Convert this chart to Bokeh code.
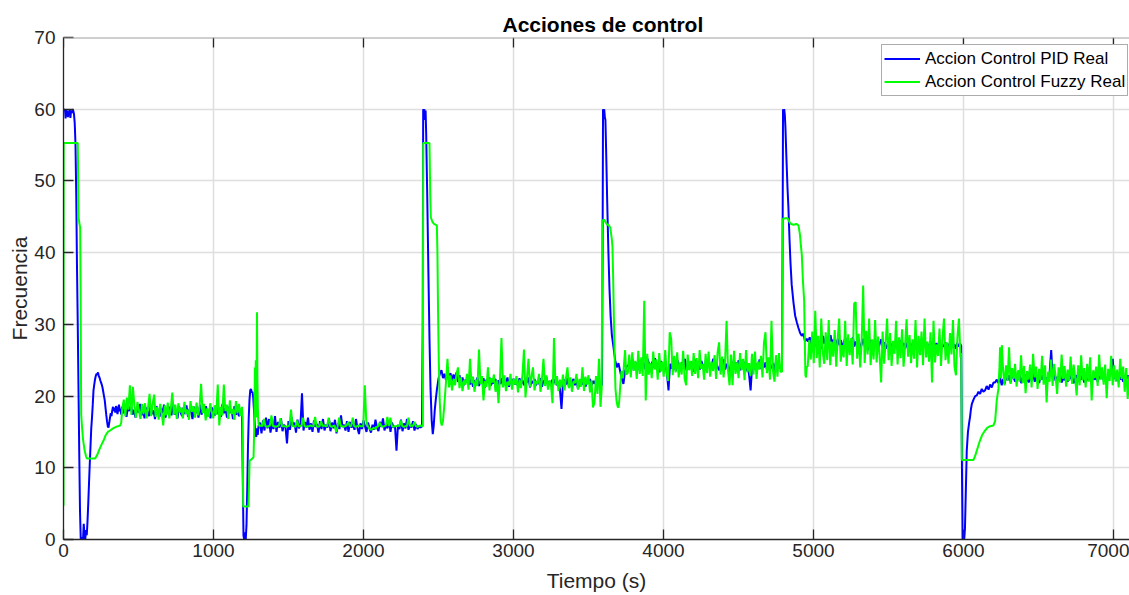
import numpy as np
from bokeh.plotting import figure
from bokeh.models import Range1d, FixedTicker, Legend, LegendItem, Span, Title
from bokeh.embed import file_html
from bokeh.resources import INLINE

# ---------------- data ----------------
x_ticks = [0, 1000, 2000, 3000, 4000, 5000, 6000, 7000]
y_ticks = [0, 10, 20, 30, 40, 50, 60, 70]
series_names = ["Accion Control PID Real", "Accion Control Fuzzy Real"]

# PID: transitions (explicit time / value) and noisy plateaus (values sampled evenly between start/end)
pid_t_a = [0,5,10,14,18,22,26,30,34,38,42,46,50,55,60,65,70,75,80,85,90,95,100,105,110,115,120,125,130,135,
           140,145,150,155,160,165,170,175,180,185,190,195,200,205,210,215,220,225,230,235,240,245,250,255,260,
           265,270,275,280,285,290,295,300,305,310,315,320,325,330,335,340,345,350,355,360,365,370,375,380,385,390]
pid_v_a = [60,59.8,60,58.7,60,59,59.8,58.9,59.6,59.2,60,58.8,59.7,59.5,60,59.8,59.3,58,55,48,38,30,21,12,4,0,0,0.3,0,2.2,
           0.5,0,1.3,0.6,2.5,5,7.8,10.5,13,15.5,17,18.8,20.8,21.6,22.3,22.8,23.1,23.0,23.3,22.8,22.6,22.2,21.9,21.6,21.2,
           20.6,20.0,19.4,18.4,17.4,16.5,15.8,15.6,16.3,17.0,17.6,17.2,18.0,18.5,17.9,18.4,17.7,18.6,18.2,17.5,18.3,18.8,17.9,18.2,17.4,18.5]
pid_n1 = [17.6,18.3,17.1,18.6,17.9,18.8,17.4,18.1,17.0,18.5,17.7,18.9,17.3,18.2,16.9,18.4,17.8,17.2,18.7,17.5,
          18.0,16.8,18.6,17.9,17.1,18.3,17.6,18.8,17.0,18.1,17.7,18.5,17.3,18.9,17.4,18.0,16.9,18.6,17.8,17.2,
          18.4,17.5,18.7,17.1,18.2,17.9,16.8,18.5,17.6,18.3,17.0,18.8,17.4,18.1,17.7,18.6,17.2,18.0,16.9,18.4,
          17.8,17.3,18.7,17.5,18.2,17.1,18.9,17.6,18.3,17.0,18.5,17.7,18.1,16.8,18.6,17.4,18.0,17.2,17.9]
pid_t_b = [1190,1195,1200,1205,1210,1215,1220,1225,1230,1235,1240,1245,1250,1255,1260,1265,1270,1275,1280,1285,1290,1295,1300]
pid_v_b = [17.5,9,0.5,0,1,0,2,7,13,17,19.5,20.8,21.0,20.5,20.6,19.8,18,16,15,14.3,15.5,14.6,15.8]
pid_n3 = [16.3,14.8,16.6,15.2,17.0,15.5,16.8,14.9,16.2,15.4,17.2,15.0,16.4,15.6,16.9,15.1,16.0,15.7,13.4,16.5,
          15.3,17.1,15.8,16.3,14.9,16.7,15.5,16.1,20.4,15.2,16.4,15.6,17.0,15.3,16.2,15.0,16.6,15.7,16.1,14.9,
          16.5,15.4,16.8,15.2,16.0,15.6,16.9,15.1,16.3,15.5,16.7,14.8,16.2,15.4,17.3,15.7,16.0,15.2,16.5,15.0,
          16.4,15.6,16.1,15.3,16.8,15.5,14.7,16.2,15.4,16.6,15.8,15.0,16.3,15.5,14.9,16.0,15.3,16.7,15.6,15.1,
          16.4,15.7,16.9,15.2,16.1,15.5,16.6,15.0,16.3,15.6,15.8,12.4,16.0,15.4,16.7,15.1,16.2,15.5,16.8,15.3,
          16.0,15.6,16.5,15.2,16.1,15.4,15.8,15.6]
pid_t_c = [2390,2395,2398,2402,2406,2410,2414,2418,2425,2433,2440,2447,2455,2462,2468,2475,2482,2490,2500,2510,2520,2530,2540,2550,2560]
pid_v_c = [15.8,30,60,59.5,60,58.5,59.8,56.6,48,37,28,21,16.5,14.7,15.8,18,19.5,21,22.4,23.2,23.6,22.5,23.1,22.2,22.8]
pid_n5 = [22.8,23.2,22.1,23.0,22.4,23.3,22.0,22.9,21.8,22.6,21.5,22.3,21.9,22.7,21.6,22.4,21.3,22.2,21.8,22.6,
          21.4,22.1,21.7,22.5,21.2,22.3,21.9,22.6,21.5,22.0,21.8,22.4,21.1,22.2,21.7,22.5,21.4,22.1,21.9,22.6,
          21.3,22.2,21.8,22.4,21.6,22.0,21.4,22.5,21.7,22.2,21.5,22.3,21.9,22.6,21.2,22.1,21.8,22.4,21.5,22.0,
          21.7,22.5,21.3,22.2,21.9,22.6,21.4,22.1,21.6,22.3,21.8,22.4,21.5,22.0,20.9,18.2,21.7,22.3,21.6,22.5,
          21.2,22.1,21.8,22.4,21.5,22.2,21.0,21.9,22.3,21.6,22.5,21.3,22.0,21.8,22.4,21.5,22.1,21.7,22.3,21.4,
          22.0,21.6]
pid_t_d = [3590,3594,3597,3601,3605,3609,3613,3618,3625,3633,3640,3648,3656,3667,3678,3689,3700,3711,3722,3733,3744,3755]
pid_v_d = [21.5,40,60,59.6,60,58.9,58.5,54,47,40,35,31,28.5,26.8,25,24,24.6,23.5,22.4,21.7,23.5,24.2]
pid_n7 = [24.2,24.8,23.6,25.1,24.0,24.7,23.4,25.0,24.3,23.8,24.9,24.1,23.5,25.2,24.4,23.7,24.8,24.0,25.3,23.9,
          24.6,23.3,24.9,24.2,23.6,24.7,23.0,20.8,24.5,23.8,24.9,24.1,23.5,25.0,24.3,23.8,24.7,24.0,25.2,23.6,
          24.5,23.9,24.8,24.2,23.4,25.1,24.0,24.6,23.7,24.9,24.3,23.5,25.0,24.1,24.7,23.8,24.4,25.2,23.9,24.6,
          24.0,23.6,24.8,24.2,25.1,23.7,24.5,24.0,23.3,24.9,24.3,23.8,24.7,24.1,25.0,23.6,24.4,24.0,24.8,23.5,
          24.6,22.9,20.8,24.2,24.9,23.7,24.5,24.1,25.1,23.8,24.4,24.0,24.7,23.6,24.8,24.2,23.9,24.6,23.4,24.9,
          24.1,24.5,23.8]
pid_t_e = [4790,4794,4797,4801,4805,4809,4813,4820,4827,4833,4840,4847,4855,4867,4878,4889,4900,4911,4922,4933,4944,4955]
pid_v_e = [24,40,60,59.7,60,59.2,57.5,53,49,46.3,42,38.5,35.5,33,31.2,30.3,29.5,28.8,28.4,28.7,27.6,28.0]
pid_n9 = [27.6,28.2,27.1,27.9,26.8,27.5,28.3,27.0,27.7,26.6,28.4,27.3,27.8,26.9,27.5,28.5,27.2,27.9,26.7,27.4,
          28.0,27.1,27.8,26.5,27.6,28.1,27.0,27.7,26.8,27.4,28.2,26.9,27.6,27.1,27.9,26.6,27.3,28.0,26.9,27.5,
          26.4,27.2,27.8,26.7,27.4,26.9,27.6,26.5,27.3,27.9,26.8,27.5,26.6,27.1,27.7,26.9,27.3,26.4,27.6,26.8,
          27.2,26.5,27.8,26.9,27.4,26.6,27.1,27.7,26.8,27.3,26.5,27.6,26.9,27.2,26.7,27.5,26.4,27.1,27.8,26.8,
          27.3,26.6,27.6,26.9,27.2,26.5,27.4,26.8,27.7,26.6,27.1,26.9,27.5,26.7,27.3,26.5,27.6,26.8,27.2,26.6,
          27.4,26.9,27.3]
pid_t_f = [5985,5990,5994,6000,6005,6010,6015,6022,6030,6038,6044,6050,6056,6067,6078,6089,6100,6111,6122,6133,
           6144,6155,6167,6178,6189,6200,6211,6222,6233,6244,6255]
pid_v_f = [27,10,0,0.5,0,1.5,6,12.4,15,16.3,17.1,18.2,18.9,19.5,20.0,20.1,20.6,20.3,21.0,20.6,
           20.8,21.4,20.9,21.6,21.2,21.9,21.9,22.3,21.8,22.6,21.5]
pid_n11 = [22.4,21.7,23.0,22.2,22.9,21.9,23.1,22.5,22.0,22.8,22.3,23.2,21.8,22.6,22.1,23.0,22.4,21.9,22.7,22.2,
           23.3,22.0,22.8,22.4,21.8,22.9,22.3,23.1,22.0,22.6,22.2,23.4,26.4,22.5,22.9,22.1,22.7,22.3,23.0,21.9,
           22.6,22.2,22.8,22.0,23.1,22.4,22.7,21.8,22.5,22.9,22.1,22.6,22.3,23.0,21.9,22.7,22.2,22.8,22.4,21.8,
           22.9,22.3,22.6,22.0,22.8,22.5,23.1,22.2,22.7,22.0,22.6,23.0,23.6,25.2,22.4,22.8,22.1,22.9,22.3,22.7,
           22.0,22.6,22.4,22.9,22.2]

# Fuzzy
fz_t_a = [0,1,95,98,100,105,111,114,116,118,122,130,140,150,156,170,190,211,225,240,255,267,280,295,311,330,350,378,385]
fz_v_a = [4.7,55.3,55.3,50,45,44.2,43.5,35,25,17.5,16.1,14,12.5,11.6,11.3,11.3,11.3,11.3,11.8,12.6,
          13.3,13.8,14.5,15.0,15.2,15.5,15.7,15.9,16.3]
fz_n1 = [18.3,19.5,17.2,19.8,18.1,21.5,17.4,21.3,18.6,17.0,19.2,18.0,16.8,18.9,17.5,19.0,16.9,18.4,20.3,17.2,
         18.8,20.2,17.1,18.5,16.7,18.9,17.6,15.9,18.7,17.3,19.1,16.9,18.2,20.5,17.4,18.8,16.8,19.0,17.7,18.4,
         16.9,19.2,17.5,18.1,16.7,19.3,17.8,18.6,17.0,19.1,17.3,18.4,21.7,17.6,18.9,16.6,18.3,17.1,19.0,17.8,
         16.9,18.7,17.4,21.6,15.9,18.5,17.3,21.6,17.9,18.8,16.8,19.4,17.5,18.2,16.7,19.3,17.6,18.9,17.2]
fz_t_b = [1190,1194,1198,1215,1233,1237,1241,1255,1267,1272,1276,1279,1282,1286,1290,1293,1296,1300]
fz_v_b = [18.5,17,4.6,4.6,4.6,8,11.0,11.2,11.5,16,24,18,25,17,31.7,22,18,16.2]
fz_n3 = [15.8,15.9,15.8,16.8,15.8,15.7,15.8,15.9,17.3,15.8,15.8,15.7,15.8,15.9,16.9,15.8,15.8,15.8,15.7,15.8,
         15.9,18.1,15.8,15.8,15.7,16.6,15.8,15.8,15.9,17.0,15.8,15.7,15.8,15.8,15.9,15.8,15.8,17.1,15.8,15.7,
         15.8,16.5,15.8,15.9,15.8,15.8,17.0,15.8,15.7,15.8,15.9,15.0,15.8,17.0,15.8,15.8,15.7,15.8,15.9,16.4,
         15.8,15.8,17.0,15.8,15.7,15.8,15.9,15.8,15.8,15.8,21.5,16.5,15.8,15.5,15.3,15.4,15.6,15.4,15.7,15.8,
         16.3,15.8,15.7,15.8,15.9,17.1,15.8,17.0,15.8,15.7,15.8,15.8,15.9,15.8,16.6,15.8,15.7,15.8,15.8,17.0,
         15.8,15.9,15.8,16.4,15.8,15.7,15.8,15.9]
fz_t_c = [2390,2396,2398,2420,2440,2445,2449,2460,2470,2489,2493,2497,2502,2508,2515,2522,2530,2538,2545,2552,2560]
fz_v_c = [15.8,15.8,55.3,55.3,55.3,48,44.9,44.3,44.0,43.8,40,32,25,19.5,16.5,15.9,16.5,18.5,20.5,22.5,25.2]
fz_n5 = [21.2,22.9,20.8,22.4,21.5,23.0,24.0,21.1,22.6,20.7,22.2,21.6,23.1,20.9,25.2,21.8,22.7,20.6,22.3,21.4,
         26.5,21.7,22.8,19.4,22.1,21.3,24.0,20.8,22.5,21.9,23.0,20.6,22.2,19.0,22.6,28.1,21.2,22.9,20.7,22.0,
         21.5,23.1,20.9,22.4,21.6,22.8,20.5,22.3,21.1,23.0,26.5,19.8,22.5,25.2,21.3,22.7,24.0,20.8,22.1,21.7,
         23.1,20.6,22.4,25.2,21.4,22.9,20.9,22.2,21.6,19.0,28.1,21.5,22.8,20.7,22.3,21.2,23.0,20.8,22.5,24.0,
         21.1,22.6,20.6,22.1,21.8,23.1,20.9,22.4,21.3,24.0,20.7,22.7,21.6,22.9,20.5,22.2,18.4,19.1,22.8,20.3,
         25.2,18.5]
fz_t_d = [3588,3593,3605,3615,3625,3633,3645,3655,3660,3665,3670,3675,3680,3688,3695,3700,3706,3712,3720,3730,3744,3752]
fz_v_d = [21,44.5,44.6,44.2,43.9,43.9,43.5,42,40.8,36,30,25,21,19.2,18.5,18.4,19.5,21.5,23.5,22.5,26.4,23.0]
fz_n7 = [23.2,25.8,22.6,26.1,23.5,24.9,22.4,26.3,23.1,25.4,22.8,33.3,19.4,25.9,23.0,24.6,22.5,26.2,23.7,25.1,
         22.3,26.0,23.4,24.8,22.7,26.4,23.2,22.1,28.9,28.0,22.9,25.6,23.3,26.1,22.6,24.7,23.0,26.3,22.4,21.5,
         25.8,23.6,24.9,22.8,26.0,23.1,25.3,22.5,26.4,23.8,24.5,22.3,25.9,23.2,26.2,22.7,24.8,23.5,25.7,22.4,
         26.1,27.5,23.0,25.5,22.6,24.9,30.5,23.4,21.5,25.8,21.5,26.3,23.1,24.7,22.5,26.0,23.6,25.2,22.2,26.4,
         23.3,24.6,22.8,25.9,23.0,26.2,22.4,24.8,23.7,25.6,22.6,27.5,28.9,23.2,25.4,22.3,30.5,23.5,22.0,25.7,
         22.7,26.0,23.4]
fz_t_e = [4790,4795,4810,4827,4840,4850,4867,4885,4900,4910,4916,4922,4930,4938,4942,4946,4950,4955]
fz_v_e = [23.4,44.7,44.8,44.8,44.3,44.0,43.9,44.0,43.8,42.5,41,39.8,36,33.3,28,23,22.6,24]
fz_n9 = [24.2,27.8,25.1,29.0,24.6,31.9,25.3,28.4,24.0,30.8,26.2,24.5,28.9,25.0,30.6,24.3,27.6,25.5,29.2,24.1,
         28.0,30.8,24.8,27.1,25.4,30.5,24.2,28.6,25.7,28.1,24.4,32.9,33.1,25.2,28.7,24.0,27.5,35.4,24.6,29.1,
         25.8,30.8,24.3,27.9,25.1,30.6,24.7,28.3,25.6,21.9,29.0,24.5,27.4,30.8,25.0,28.8,24.2,27.7,25.9,30.5,
         24.4,28.2,25.3,29.3,24.1,27.0,30.7,25.5,28.5,24.6,27.9,25.2,30.6,24.0,28.4,25.7,29.0,24.3,30.8,25.4,
         27.6,24.8,28.9,21.9,30.5,24.7,27.2,25.6,29.4,24.2,28.1,30.8,25.0,27.5,24.5,28.8,25.8,30.6,24.1,22.9,
         28.3,30.8,25.4]
fz_t_f = [5985,5989,6030,6067,6080,6095,6110,6125,6144,6160,6178,6200,6211,6222,6233,6240,6244,6250,6256]
fz_v_f = [26,11.1,11.1,11.1,11.8,12.8,13.8,14.6,15.2,15.6,15.8,15.9,16.5,19.4,21,24,26.8,22.5,27.1]
fz_n11 = [23.8,21.5,24.3,22.1,26.8,21.7,23.9,22.4,24.5,21.3,23.6,22.0,25.7,21.8,24.2,20.4,23.5,22.3,24.4,21.2,
          25.9,22.6,24.1,21.0,23.8,22.2,25.6,21.6,24.3,19.1,23.4,22.0,25.1,21.4,24.5,22.7,20.3,24.0,21.9,25.8,
          22.4,24.2,21.3,23.7,22.1,25.5,21.7,24.4,22.6,20.1,24.3,21.5,25.7,22.2,23.9,21.2,24.5,22.0,25.4,19.4,
          23.6,22.5,24.1,21.4,25.8,22.3,24.0,21.6,24.4,19.7,23.8,22.1,25.6,21.5,24.3,22.0,23.7,21.2,25.2,22.4,
          24.1,20.6,23.9,19.6,22.8]


def plateau(t0, t1, vals):
    return list(np.linspace(t0, t1, len(vals))), list(vals)


def join(parts):
    t, v = [], []
    for pt, pv in parts:
        assert len(pt) == len(pv), (len(pt), len(pv))
        t += list(pt)
        v += list(pv)
    return t, v


pid_t, pid_v = join([
    (pid_t_a, pid_v_a), plateau(400, 1180, pid_n1),
    (pid_t_b, pid_v_b), plateau(1310, 2380, pid_n3),
    (pid_t_c, pid_v_c), plateau(2570, 3580, pid_n5),
    (pid_t_d, pid_v_d), plateau(3765, 4780, pid_n7),
    (pid_t_e, pid_v_e), plateau(4965, 5978, pid_n9),
    (pid_t_f, pid_v_f), plateau(6265, 7105, pid_n11),
])
fz_t, fz_v = join([
    (fz_t_a, fz_v_a), plateau(392, 1180, fz_n1),
    (fz_t_b, fz_v_b), plateau(1306, 2380, fz_n3),
    (fz_t_c, fz_v_c), plateau(2570, 3580, fz_n5),
    (fz_t_d, fz_v_d), plateau(3762, 4780, fz_n7),
    (fz_t_e, fz_v_e), plateau(4962, 5980, fz_n9),
    (fz_t_f, fz_v_f), plateau(6264, 7105, fz_n11),
])

# ---------------- figure ----------------
FONT = "Liberation Sans"
W, H = 1129, 595
LEFT, TOP, BOTTOM = 63, 37, 56
Y_MAX = 70
p = figure(width=W, height=H, output_backend="svg", toolbar_location=None,
           x_range=Range1d(0, 7107), y_range=Range1d(0, Y_MAX),
           min_border_left=LEFT, min_border_right=0, min_border_top=TOP, min_border_bottom=BOTTOM)
p.title = Title(text="Acciones de control", align="left", offset=439, standoff=4,
                text_font=FONT, text_font_size="21px", text_font_style="bold", text_color="#000000")
p.background_fill_color = "white"
p.border_fill_color = "white"
p.outline_line_color = None

for ax in (p.xaxis[0], p.yaxis[0]):
    ax.axis_line_color = "#262626"
    ax.axis_line_width = 1.3
    ax.major_tick_line_color = "#262626"
    ax.major_tick_line_width = 1.3
    ax.major_tick_in = 10
    ax.major_tick_out = 0
    ax.minor_tick_line_color = None
    ax.major_label_text_font = FONT
    ax.major_label_text_font_size = "19px"
    ax.major_label_text_color = "#262626"
    ax.axis_label_text_font = FONT
    ax.axis_label_text_font_size = "21px"
    ax.axis_label_text_font_style = "normal"
    ax.axis_label_text_color = "#262626"
p.xaxis[0].ticker = FixedTicker(ticks=x_ticks)
p.yaxis[0].ticker = FixedTicker(ticks=y_ticks)
p.xaxis[0].major_label_standoff = 4
p.yaxis[0].major_label_standoff = 8
p.xaxis[0].axis_label = "Tiempo (s)"
p.yaxis[0].axis_label = "Frecuencia"
p.xaxis[0].axis_label_standoff = 9
p.yaxis[0].axis_label_standoff = 0

p.xgrid.ticker = FixedTicker(ticks=x_ticks)
p.ygrid.ticker = FixedTicker(ticks=y_ticks)
for g in (p.xgrid[0], p.ygrid[0]):
    g.grid_line_color = "#dedede"
    g.grid_line_width = 1.5

# top edge of the box and its inward ticks
p.add_layout(Span(location=Y_MAX, dimension="width", line_color="#a0a0a0", line_width=2))
tick_len = 10 * Y_MAX / (H - TOP - BOTTOM)
p.segment(x0=x_ticks, y0=[Y_MAX] * len(x_ticks), x1=x_ticks, y1=[Y_MAX - tick_len] * len(x_ticks),
          line_color="#262626", line_width=1.3)

r_pid = p.line(pid_t, pid_v, line_color="#0000ff", line_width=2)
r_fz = p.line(fz_t, fz_v, line_color="#00ff00", line_width=2)

legend = Legend(items=[LegendItem(label=series_names[0], renderers=[r_pid]),
                       LegendItem(label=series_names[1], renderers=[r_fz])],
                location=(818, 443), orientation="vertical",
                label_text_font=FONT, label_text_font_size="17px", label_text_color="#000000",
                glyph_width=36, glyph_height=23, label_height=23, label_standoff=5,
                padding=2, spacing=0, margin=0,
                border_line_color="#5a5a5a", border_line_width=1.3,
                background_fill_color="white", background_fill_alpha=1.0)
p.add_layout(legend, "center")

open("out.html", "w").write(file_html(p, INLINE))
